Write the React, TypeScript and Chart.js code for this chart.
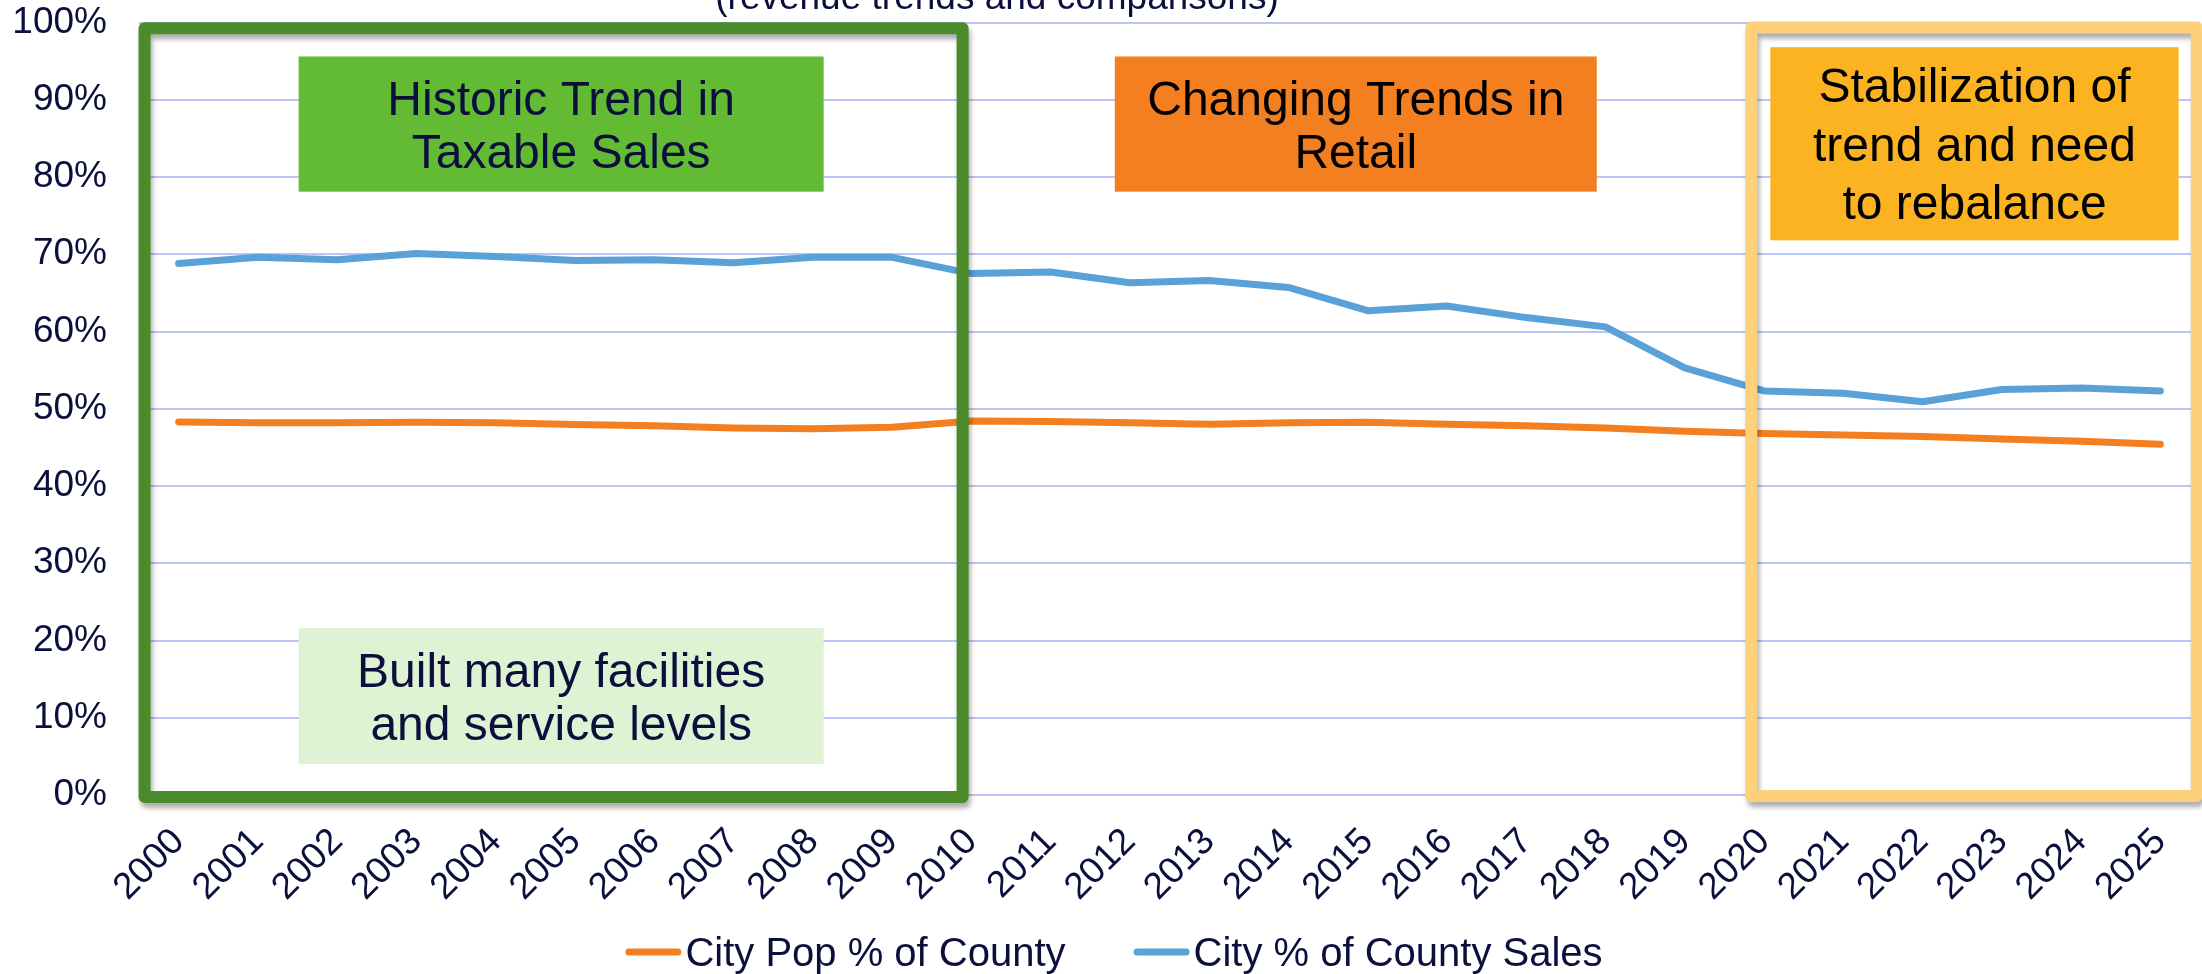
import React, { useEffect, useRef } from 'react';
import { Chart, registerables } from 'chart.js';

Chart.register(...registerables);

// ---------- data ----------
const years = [
  '2000', '2001', '2002', '2003', '2004', '2005', '2006', '2007', '2008', '2009',
  '2010', '2011', '2012', '2013', '2014', '2015', '2016', '2017', '2018', '2019',
  '2020', '2021', '2022', '2023', '2024', '2025',
];
const cityPopPct = [
  48.3, 48.2, 48.2, 48.25, 48.2, 47.95, 47.8, 47.5, 47.4, 47.6,
  48.4, 48.35, 48.2, 48.0, 48.2, 48.25, 48.0, 47.8, 47.5, 47.1,
  46.8, 46.6, 46.4, 46.1, 45.8, 45.4,
];
const citySalesPct = [
  68.8, 69.6, 69.3, 70.1, 69.7, 69.2, 69.3, 68.9, 69.6, 69.6,
  67.5, 67.7, 66.3, 66.6, 65.7, 62.7, 63.3, 61.8, 60.6, 55.3,
  52.3, 52.0, 50.9, 52.5, 52.7, 52.3,
];
const seriesLabels = ['City Pop % of County', 'City % of County Sales'];
const seriesColors = ['#F47F20', '#59A1D6'];
const yMin = 0;
const yMax = 100;
const yStep = 10;
const titleText = '(revenue trends and comparisons)';

// ---------- annotations (in axis units: category index / percent) ----------
const frames = [
  { xFrom: -0.43, xTo: 9.89, yTop: 99.25, yBottom: -0.25, color: '#4B8B2A' },
  { xFrom: 19.84, xTo: 25.46, yTop: 99.35, yBottom: -0.13, color: '#FED07A' },
];
const noteBoxes = [
  { xFrom: 1.514, xTo: 8.137, yTop: 95.6, yBottom: 78.1, fill: '#62BB33', color: '#0B0F3C', lines: ['Historic Trend in', 'Taxable Sales'], lh: 53.5 },
  { xFrom: 1.514, xTo: 8.137, yTop: 21.6, yBottom: 4.0, fill: '#DFF2D4', color: '#0B0F3C', lines: ['Built many facilities', 'and service levels'], lh: 53.5 },
  { xFrom: 11.81, xTo: 17.89, yTop: 95.6, yBottom: 78.1, fill: '#F47F20', color: '#000000', lines: ['Changing Trends in', 'Retail'], lh: 53.5 },
  { xFrom: 20.08, xTo: 25.23, yTop: 96.8, yBottom: 71.8, fill: '#FBB322', color: '#000000', lines: ['Stabilization of', 'trend and need', 'to rebalance'], lh: 58.5 },
];

const FONT = '"Liberation Sans", Arial, Helvetica, sans-serif';
const NAVY = '#0B0F3C';

const overlayPlugin = {
  id: 'overlay',
  afterDatasetsDraw(chart: any) {
    const { ctx, scales } = chart;
    const xs = scales.x;
    const ys = scales.y;
    // note boxes
    noteBoxes.forEach((b) => {
      const x1 = xs.getPixelForValue(b.xFrom);
      const x2 = xs.getPixelForValue(b.xTo);
      const y1 = ys.getPixelForValue(b.yTop);
      const y2 = ys.getPixelForValue(b.yBottom);
      ctx.save();
      ctx.fillStyle = b.fill;
      ctx.fillRect(x1, y1, x2 - x1, y2 - y1);
      ctx.font = `48px ${FONT}`;
      ctx.fillStyle = b.color;
      ctx.textAlign = 'center';
      ctx.textBaseline = 'alphabetic';
      const cx = (x1 + x2) / 2;
      const cy = (y1 + y2) / 2;
      const n = b.lines.length;
      b.lines.forEach((t, i) => {
        const by = cy + (i - (n - 1) / 2) * b.lh + 0.716 * 48 / 2;
        ctx.fillText(t, cx, by);
      });
      ctx.restore();
    });
    // frames
    frames.forEach((f) => {
      const x1 = xs.getPixelForValue(f.xFrom);
      const x2 = xs.getPixelForValue(f.xTo);
      const y1 = ys.getPixelForValue(f.yTop);
      const y2 = ys.getPixelForValue(f.yBottom);
      ctx.save();
      ctx.shadowColor = 'rgba(0,0,0,0.32)';
      ctx.shadowBlur = 5;
      ctx.shadowOffsetX = 2;
      ctx.shadowOffsetY = 5;
      ctx.strokeStyle = f.color;
      ctx.lineWidth = 12;
      ctx.lineJoin = 'round';
      ctx.strokeRect(x1, y1, x2 - x1, y2 - y1);
      ctx.restore();
    });
  },
  afterDraw(chart: any) {
    const { ctx } = chart;
    // title (mostly cut off at top)
    ctx.save();
    ctx.font = `37px ${FONT}`;
    ctx.fillStyle = NAVY;
    ctx.textAlign = 'center';
    ctx.textBaseline = 'alphabetic';
    ctx.fillText(titleText, 997, 9);
    ctx.restore();

    // legend
    ctx.save();
    ctx.font = `40px ${FONT}`;
    const lineLen = 56;
    const gap = 4;
    const itemGap = 68;
    const widths = chart.data.datasets.map((d: any) => ctx.measureText(d.label).width);
    const total = widths.reduce((a: number, w: number) => a + lineLen + gap + w, 0) + itemGap * (widths.length - 1);
    let x = 1114 - total / 2;
    const ly = 952;
    chart.data.datasets.forEach((d: any, i: number) => {
      ctx.strokeStyle = d.borderColor;
      ctx.lineWidth = 7;
      ctx.lineCap = 'round';
      ctx.beginPath();
      ctx.moveTo(x + 3.5, ly);
      ctx.lineTo(x + lineLen - 3.5, ly);
      ctx.stroke();
      ctx.fillStyle = NAVY;
      ctx.textAlign = 'left';
      ctx.textBaseline = 'alphabetic';
      ctx.fillText(d.label, x + lineLen + gap, ly + 0.716 * 40 / 2);
      x += lineLen + gap + widths[i] + itemGap;
    });
    ctx.restore();
  },
};

export default function App() {
  const canvasRef = useRef<HTMLCanvasElement | null>(null);

  useEffect(() => {
    if (!canvasRef.current) return;
    const chart = new Chart(canvasRef.current, {
      type: 'line',
      data: {
        labels: years,
        datasets: [
          {
            label: seriesLabels[0],
            data: cityPopPct,
            borderColor: seriesColors[0],
            backgroundColor: seriesColors[0],
            borderWidth: 7,
            pointRadius: 0,
            tension: 0,
            borderCapStyle: 'round',
            borderJoinStyle: 'round',
          },
          {
            label: seriesLabels[1],
            data: citySalesPct,
            borderColor: seriesColors[1],
            backgroundColor: seriesColors[1],
            borderWidth: 7,
            pointRadius: 0,
            tension: 0,
            borderCapStyle: 'round',
            borderJoinStyle: 'round',
          },
        ],
      },
      options: {
        responsive: false,
        animation: false,
        devicePixelRatio: 1,
        layout: { padding: { top: 22.5, right: 2, left: 0, bottom: 0 } },
        plugins: {
          legend: { display: false },
          title: { display: false },
          tooltip: { enabled: false },
        },
        scales: {
          x: {
            type: 'category',
            offset: true,
            grid: { display: false, drawTicks: false },
            border: { display: false },
            ticks: {
              autoSkip: false,
              maxRotation: 45,
              minRotation: 45,
              padding: 25,
              color: NAVY,
              font: { family: FONT, size: 37 },
            },
            afterFit(scale: any) {
              scale.height = 179;
              scale.paddingLeft = 0;
              scale.paddingRight = 0;
            },
          },
          y: {
            min: yMin,
            max: yMax,
            grid: { color: '#B8C5F6', lineWidth: 2, drawTicks: false },
            border: { display: false },
            ticks: {
              stepSize: yStep,
              padding: 32,
              color: NAVY,
              font: { family: FONT, size: 37 },
              callback: (v: any) => `${v}%`,
            },
            afterFit(scale: any) {
              scale.width = 139;
              scale.paddingTop = 0;
              scale.paddingBottom = 0;
            },
          },
        },
      },
      plugins: [overlayPlugin],
    } as any);
    return () => chart.destroy();
  }, []);

  return (
    <div style={{ position: 'absolute', left: 0, top: 0, width: 2202, height: 974, background: '#fff' }}>
      <canvas ref={canvasRef} width={2202} height={974} style={{ display: 'block' }} />
    </div>
  );
}
